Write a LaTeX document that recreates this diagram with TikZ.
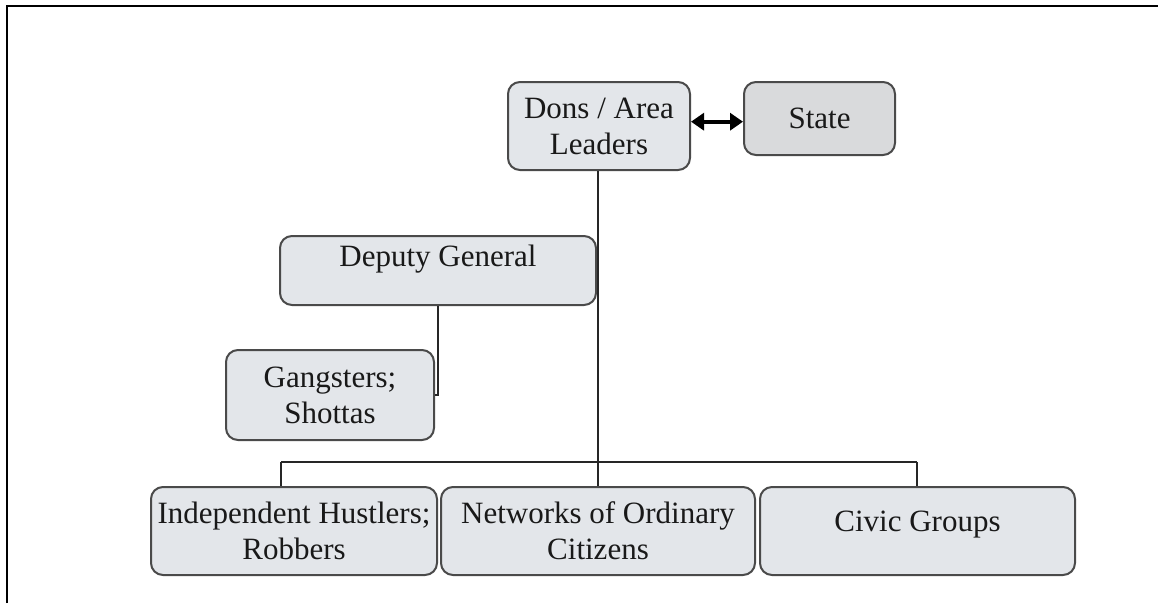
\documentclass[tikz,border=0pt]{standalone}
\usepackage{fontspec}
\setmainfont{Liberation Serif}
\usetikzlibrary{arrows.meta,calc}
\definecolor{boxfill}{HTML}{E3E6EA}
\definecolor{statefill}{HTML}{D9DADC}
\definecolor{boxline}{HTML}{4A4A4A}
\definecolor{conline}{HTML}{262626}
\begin{document}
\begin{tikzpicture}[x=1pt,y=-1pt,
  box/.style={draw=boxline,line width=2pt,fill=boxfill,rounded corners=12pt,
    inner sep=0pt,align=center,font=\fontsize{31}{36}\selectfont,text=black!90},
  txt/.style={inner sep=0pt,align=center,font=\fontsize{31}{36}\selectfont,text=black!90},
  conn/.style={draw=conline,line width=2.4pt},
  dblarrow/.style={draw=black,line width=4pt,{Triangle[length=13pt,width=17pt]}-{Triangle[length=13pt,width=17pt]}}]
\useasboundingbox (0,0) rectangle (1158,603);
\fill[white] (0,0) rectangle (1158,603);
% frame
\coordinate (frL) at (7,603);
\coordinate (frC) at (7,6);
\coordinate (frR) at (1158,6);
\draw[black,line width=2.5pt] (frL) -- (frC) -- (frR);
% nodes
\node[box,minimum width=182pt,minimum height=88pt] (dons) at (599,126) {Dons / Area\\Leaders};
\node[box,fill=statefill,minimum width=151pt,minimum height=73pt] (state) at (819.5,118.5) {State};
\node[box,minimum width=316pt,minimum height=69pt] (deputy) at (438,270.5) {};
\node[txt] (deputyt) at (438,259) {Deputy General};
\node[box,minimum width=208pt,minimum height=90pt] (gang) at (330,395) {Gangsters;\\Shottas};
\node[box,minimum width=286pt,minimum height=88pt] (hustlers) at (294,531) {Independent Hustlers;\\Robbers};
\node[box,minimum width=314pt,minimum height=88pt] (networks) at (598,531) {Networks of Ordinary\\Citizens};
\node[box,minimum width=315pt,minimum height=88pt] (civic) at (917.5,531) {};
\node[txt] (civict) at (917.5,525) {Civic Groups};
% connectors
\draw[dblarrow] ([yshift=4.3pt]dons.east) -- ([yshift=4.3pt]dons.east -| state.west);
\coordinate (busL) at (281,462);
\coordinate (busR) at (917,462);
\draw[conn] (dons.south -| 598,0) -- (networks.north);
\draw[conn] (busL) -- (busR);
\draw[conn] (busL) -- (busL |- hustlers.north);
\draw[conn] (busR) -- (busR |- civic.north);
\draw[conn] (deputy.south) |- (gang.east);
\end{tikzpicture}
\end{document}
